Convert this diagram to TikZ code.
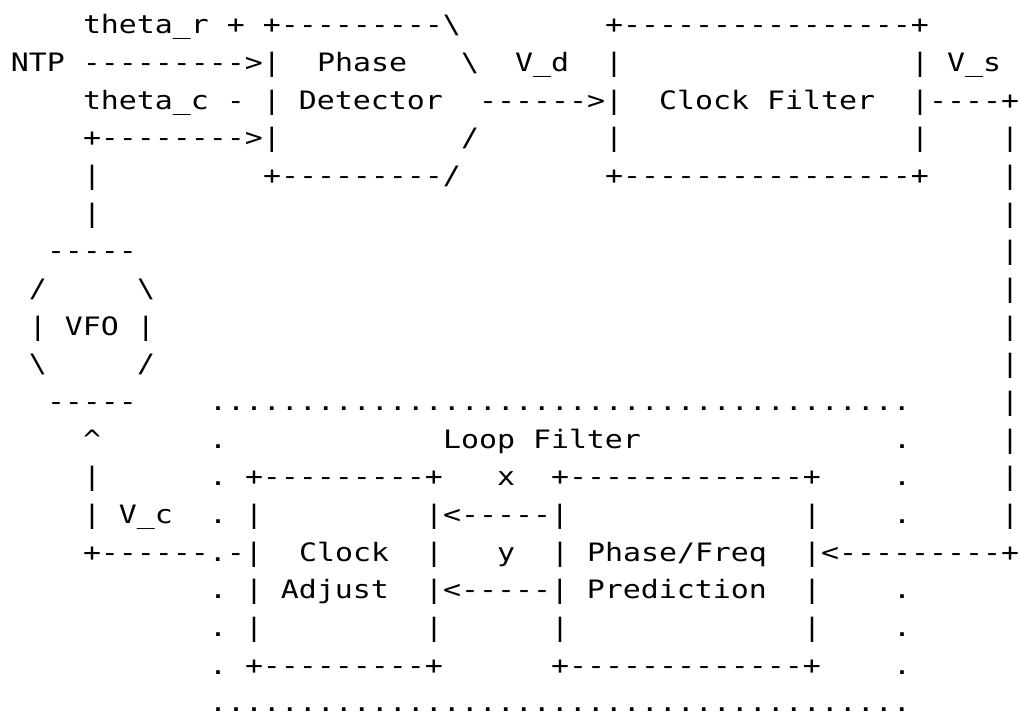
\documentclass[tikz,border=0pt]{standalone}
\usepackage{fontspec}
\usepackage{graphicx}
\setmonofont{DejaVu Sans Mono}
\ExplSyntaxOn
\cs_new:Npn \rpt #1 #2 { \prg_replicate:nn {#1} {#2} }
\ExplSyntaxOff
\newcommand\hs{1.1802}
\newcommand\bs{\textbackslash}
\newcommand\dotline{\rpt{39}{.}}
\tikzset{
  txt/.style={anchor=base west, inner sep=0pt, outer sep=0pt,
    font=\ttfamily\fontsize{19pt}{19pt}\selectfont\frenchspacing}
}
% row, column, text
\newcommand\seg[3]{\node[txt] (s#1-#2) at ({11+18*#2},{717-34-37.65*(#1-1)}) {\scalebox{\hs}[1]{#3}};}
\begin{document}
\begin{tikzpicture}[x=0.75pt,y=0.75pt]
\fill[white] (0,0) rectangle (1019,717);
\useasboundingbox (0,0) rectangle (1019,717);
% row 1
\seg{1}{4}{theta\_r + +\rpt{9}{-}\bs}
\seg{1}{33}{+\rpt{16}{-}+}
% row 2
\seg{2}{0}{NTP \rpt{9}{-}>|}
\seg{2}{17}{Phase}
\seg{2}{25}{\bs}
\seg{2}{28}{V\_d}
\seg{2}{33}{|}
\seg{2}{50}{| V\_s}
% row 3
\seg{3}{4}{theta\_c - | Detector}
\seg{3}{26}{\rpt{6}{-}>|}
\seg{3}{36}{Clock Filter}
\seg{3}{50}{|\rpt{4}{-}+}
% row 4
\seg{4}{4}{+\rpt{8}{-}>|}
\seg{4}{25}{/}
\seg{4}{33}{|}
\seg{4}{50}{|}
\seg{4}{55}{|}
% row 5
\seg{5}{4}{|}
\seg{5}{14}{+\rpt{9}{-}/}
\seg{5}{33}{+\rpt{16}{-}+}
\seg{5}{55}{|}
% row 6
\seg{6}{4}{|}
\seg{6}{55}{|}
% row 7
\seg{7}{2}{\rpt{5}{-}}
\seg{7}{55}{|}
% row 8
\seg{8}{1}{/}
\seg{8}{7}{\bs}
\seg{8}{55}{|}
% row 9
\seg{9}{1}{| VFO |}
\seg{9}{55}{|}
% row 10
\seg{10}{1}{\bs}
\seg{10}{7}{/}
\seg{10}{55}{|}
% row 11
\seg{11}{2}{\rpt{5}{-}}
\seg{11}{11}{\dotline}
\seg{11}{55}{|}
% row 12
\seg{12}{4}{\textasciicircum}
\seg{12}{11}{.}
\seg{12}{24}{Loop Filter}
\seg{12}{49}{.}
\seg{12}{55}{|}
% row 13
\seg{13}{4}{|}
\seg{13}{11}{. +\rpt{9}{-}+}
\seg{13}{27}{x}
\seg{13}{30}{+\rpt{13}{-}+}
\seg{13}{49}{.}
\seg{13}{55}{|}
% row 14
\seg{14}{4}{| V\_c}
\seg{14}{11}{. |}
\seg{14}{23}{|<\rpt{5}{-}|}
\seg{14}{44}{|}
\seg{14}{49}{.}
\seg{14}{55}{|}
% row 15
\seg{15}{4}{+\rpt{6}{-}.-|}
\seg{15}{16}{Clock}
\seg{15}{23}{|}
\seg{15}{27}{y}
\seg{15}{30}{| Phase/Freq}
\seg{15}{44}{|<\rpt{9}{-}+}
% row 16
\seg{16}{11}{. | Adjust}
\seg{16}{23}{|<\rpt{5}{-}| Prediction}
\seg{16}{44}{|}
\seg{16}{49}{.}
% row 17
\seg{17}{11}{. |}
\seg{17}{23}{|}
\seg{17}{30}{|}
\seg{17}{44}{|}
\seg{17}{49}{.}
% row 18
\seg{18}{11}{. +\rpt{9}{-}+}
\seg{18}{30}{+\rpt{13}{-}+}
\seg{18}{49}{.}
% row 19
\seg{19}{11}{\dotline}
\end{tikzpicture}
\end{document}
